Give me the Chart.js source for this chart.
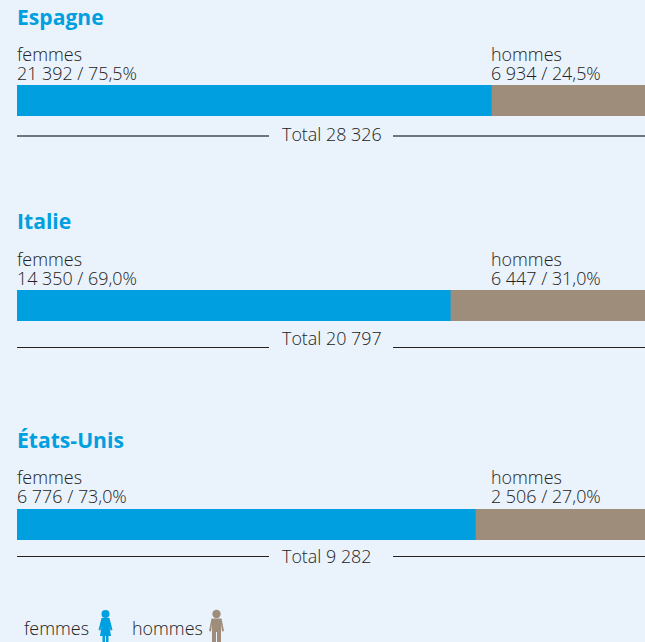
<!DOCTYPE html>
<html>
<head>
<meta charset="utf-8">
<script src="https://cdn.jsdelivr.net/npm/chart.js@4"></script>
<style>
  html, body { margin: 0; padding: 0; }
  body { width: 645px; height: 642px; background: #eaf2fb; position: relative; overflow: hidden;
         font-family: "Open Sans", sans-serif; font-weight: 300; color: #222; }
  .t { position: absolute; white-space: pre; font-size: 17.9px; line-height: 18.5px; }
  .title { position: absolute; white-space: nowrap; font-size: 21.1px; line-height: 26px; font-weight: 700; color: #009fdf; }
  .bar { position: absolute; left: 17px; width: 628px; height: 31px; }
  .rule { position: absolute; width: 252px; }
  svg { position: absolute; }
</style>
</head>
<body>
<script>
const countries = ['Espagne', 'Italie', 'États-Unis'];
const femmes = [21392, 14350, 6776];
const hommes = [6934, 6447, 2506];
const totals = [28326, 20797, 9282];
const femmesPct = ['75,5%', '69,0%', '73,0%'];
const hommesPct = ['24,5%', '31,0%', '27,0%'];
const femmesLabels = ['21 392', '14 350', '6 776'];
const hommesLabels = ['6 934', '6 447', '2 506'];
const totalLabels = ['28 326', '20 797', '9 282'];

const BLUE = '#009fdf';
const BROWN = '#9f8d7c';

// vertical layout of each block, in page px
const titleTop = [4, 208, 427];
const labelTop = [45, 250, 468];
const barTop = [85, 290, 509];
const totalTop = [125, 329, 547];
const ruleTop = [135, 347, 556];
const ruleHeight = [2, 1, 1];
const ruleColor = ['#70747c', '#222', '#222'];

function addText(cls, left, top, text) {
  const d = document.createElement('div');
  d.className = cls;
  d.style.left = left + 'px';
  d.style.top = top + 'px';
  d.textContent = text;
  document.body.appendChild(d);
}

countries.forEach((name, i) => {
  addText('title', 17, titleTop[i], name);
  addText('t', 17, labelTop[i], 'femmes\n' + femmesLabels[i] + ' / ' + femmesPct[i]);
  addText('t', 491, labelTop[i], 'hommes\n' + hommesLabels[i] + ' / ' + hommesPct[i]);
  addText('t', 282, totalTop[i], 'Total ' + totalLabels[i]);

  [17, 393].forEach(x => {
    const r = document.createElement('div');
    r.className = 'rule';
    r.style.left = x + 'px';
    r.style.top = ruleTop[i] + 'px';
    r.style.height = ruleHeight[i] + 'px';
    r.style.background = ruleColor[i];
    document.body.appendChild(r);
  });

  const box = document.createElement('div');
  box.className = 'bar';
  box.style.top = barTop[i] + 'px';
  const cv = document.createElement('canvas');
  box.appendChild(cv);
  document.body.appendChild(box);

  new Chart(cv, {
    type: 'bar',
    data: {
      labels: [name],
      datasets: [
        { label: 'femmes', data: [femmes[i]], backgroundColor: BLUE },
        { label: 'hommes', data: [hommes[i]], backgroundColor: BROWN }
      ]
    },
    options: {
      indexAxis: 'y',
      responsive: true,
      maintainAspectRatio: false,
      animation: false,
      layout: { padding: 0 },
      datasets: { bar: { barPercentage: 1, categoryPercentage: 1, borderWidth: 0 } },
      plugins: { legend: { display: false }, tooltip: { enabled: false } },
      scales: {
        x: { stacked: true, display: false, min: 0, max: totals[i] },
        y: { stacked: true, display: false }
      }
    }
  });
});

addText('t', 24, 619, 'femmes');
addText('t', 132, 619, 'hommes');
</script>
<svg style="left:97px;top:609px" width="16" height="33" viewBox="0 0 16 33">
  <circle cx="8.5" cy="5" r="4" fill="#009fdf"/>
  <path d="M4.5 9 H12.5 L15.5 21 L13.6 21.6 L12.4 17 L14 27 H11.5 V33 H9 V27 H8 V33 H5.5 V27 H3 L4.6 17 L3.4 21.6 L1.5 21 Z" fill="#009fdf"/>
</svg>
<svg style="left:209px;top:609px" width="16" height="33" viewBox="0 0 16 33">
  <circle cx="7.5" cy="5" r="4.2" fill="#9f8d7c"/>
  <path d="M2.5 9.5 H12.5 L15 22 L13 22.4 L12 15 V33 H8 V23 H7 V33 H3 V15 L2 22.4 L0 22 Z" fill="#9f8d7c"/>
</svg>
</body>
</html>
